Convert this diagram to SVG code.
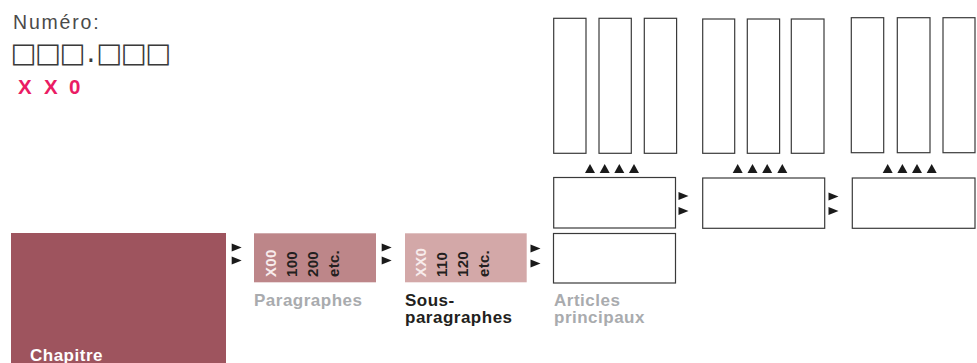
<svg xmlns="http://www.w3.org/2000/svg" width="977" height="363" viewBox="0 0 977 363">
<defs>
<style>
.box{fill:#fff;stroke:#3a3a3a;stroke-width:1.2}
.lbl{font-family:"Liberation Sans",Arial,sans-serif;font-weight:bold;font-size:17px;letter-spacing:0.5px}
.grey{fill:#a9abae}
.dark{fill:#231f20}
.rot{font-family:"Liberation Sans",Arial,sans-serif;font-weight:bold;font-size:15px;letter-spacing:0.3px}
.w{fill:#f8ecec}
.tri{fill:#1a1a1a}
</style>
<path id="up" d="M0,9 L5,0 L10,9 Z"/>
<path id="rt" d="M0,0 L10,4 L0,8 Z"/>
</defs>
<rect width="977" height="363" fill="#fff"/>

<g id="numero">
<text x="13" y="28.5" font-family="'Liberation Sans',Arial,sans-serif" font-size="19.5" letter-spacing="1.8" fill="#4a4a4a">Numéro:</text>
<text x="10.6 35.1 59.6 86.5 96.3 120.8 145.3" y="61.5" font-family="'DejaVu Sans',sans-serif" font-size="27.5" fill="#3a3a3a">□□□.□□□</text>
<text x="18 44 69" y="94.3" font-family="'Liberation Sans',Arial,sans-serif" font-weight="bold" font-size="20.5" fill="#ea1c64">XX0</text>
</g>

<g id="chapitre">
<rect x="11" y="233" width="215" height="135" fill="#9e545e"/>
<text class="lbl" x="30" y="360.5" fill="#fff">Chapitre</text>
</g>

<g id="paragraphes">
<rect x="254" y="233.3" width="122" height="49" fill="#bd8689"/>
<text class="rot w" transform="translate(276,277) rotate(-90)">X00</text>
<text class="rot dark" transform="translate(296.5,277) rotate(-90)">100</text>
<text class="rot dark" transform="translate(317.5,277) rotate(-90)">200</text>
<text class="rot dark" transform="translate(338.5,277) rotate(-90)">etc.</text>
<text class="lbl grey" x="254" y="305.5">Paragraphes</text>
</g>

<g id="sous-paragraphes">
<rect x="405" y="233.3" width="121.7" height="49" fill="#d3a8a8"/>
<text class="rot w" transform="translate(426,277) rotate(-90)">XX0</text>
<text class="rot dark" transform="translate(446.5,277) rotate(-90)">110</text>
<text class="rot dark" transform="translate(467.5,277) rotate(-90)">120</text>
<text class="rot dark" transform="translate(488.5,277) rotate(-90)">etc.</text>
<text class="lbl dark" x="405" y="305.5">Sous-</text>
<text class="lbl dark" x="405" y="322.5">paragraphes</text>
</g>

<g id="articles">
<rect class="box" x="553.5" y="233.5" width="122" height="49.5"/>
<text class="lbl grey" x="554" y="305.5">Articles</text>
<text class="lbl grey" x="554" y="322.5">principaux</text>
</g>

<g id="groupe1">
<rect class="box" x="553.7" y="177.5" width="121.8" height="50.5"/>
<rect class="box" x="553.7" y="18.3" width="32.3" height="135"/>
<rect class="box" x="599" y="18.3" width="32.3" height="135"/>
<rect class="box" x="644.3" y="18.3" width="32.3" height="135"/>
</g>

<g id="groupe2">
<rect class="box" x="702.7" y="178" width="122" height="50.3"/>
<rect class="box" x="702.7" y="19" width="32" height="134.3"/>
<rect class="box" x="747.3" y="19" width="32.3" height="134.3"/>
<rect class="box" x="791.3" y="19" width="32.7" height="134.3"/>
</g>

<g id="groupe3">
<rect class="box" x="852.3" y="178" width="122.7" height="50.3"/>
<rect class="box" x="851.3" y="17.7" width="32.4" height="135"/>
<rect class="box" x="897.3" y="17.7" width="32.7" height="135"/>
<rect class="box" x="943" y="17.7" width="32" height="135"/>
</g>

<g id="connecteurs" class="tri">
<use href="#rt" x="231.7" y="243.5"/>
<use href="#rt" x="231.7" y="256.5"/>
<use href="#rt" x="381.7" y="243.5"/>
<use href="#rt" x="381.7" y="256.5"/>
<use href="#rt" x="530.5" y="244.5"/>
<use href="#rt" x="530.5" y="259.5"/>
<use href="#rt" x="678.5" y="192"/>
<use href="#rt" x="678.5" y="207"/>
<use href="#rt" x="828.5" y="192.5"/>
<use href="#rt" x="828.5" y="207"/>
<use href="#up" x="585" y="164"/>
<use href="#up" x="599.7" y="164"/>
<use href="#up" x="614.3" y="164"/>
<use href="#up" x="629" y="164"/>
<use href="#up" x="732.7" y="164"/>
<use href="#up" x="747.5" y="164"/>
<use href="#up" x="762.2" y="164"/>
<use href="#up" x="777.3" y="164"/>
<use href="#up" x="882.7" y="164"/>
<use href="#up" x="897.4" y="164"/>
<use href="#up" x="912" y="164"/>
<use href="#up" x="926.7" y="164"/>
</g>
</svg>
